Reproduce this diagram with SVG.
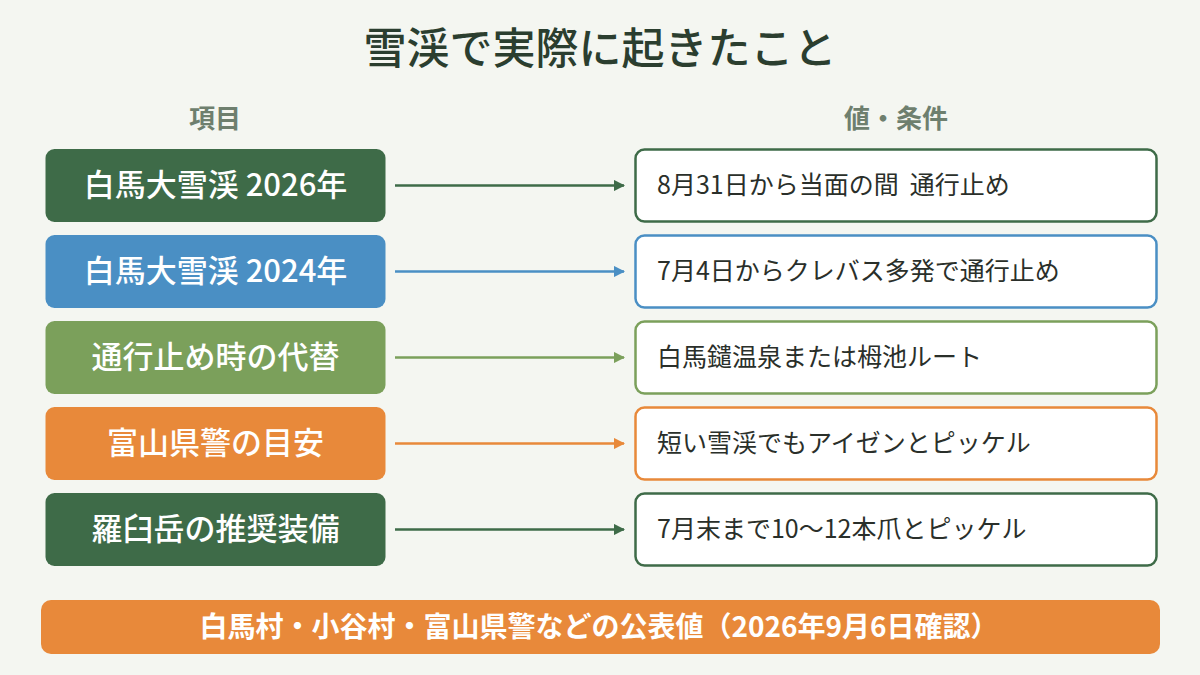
<svg xmlns="http://www.w3.org/2000/svg" width="1200" height="675" viewBox="0 0 1200 675">
<style>
text{font-family:"Noto Sans CJK JP","Noto Sans",sans-serif}
.title{font-size:43px;font-weight:500;fill:#2B3E2F;text-anchor:middle}
.hdr{font-size:26px;font-weight:700;fill:#6E7F6E;text-anchor:middle}
.lt{font-size:31px;font-weight:500;fill:#fff;text-anchor:middle}
.rt{font-size:25px;fill:#2A2F2A}
.rbox{fill:#fff;stroke-width:2.5}
.conn{stroke-width:2.5;fill:none}
</style>
<defs>
<marker id="ag" viewBox="0 0 10 10" refX="9" refY="5" markerWidth="4.5" markerHeight="4.5" orient="auto"><path d="M0,0L10,5L0,10z" fill="#3E6B48"/></marker>
<marker id="ab" viewBox="0 0 10 10" refX="9" refY="5" markerWidth="4.5" markerHeight="4.5" orient="auto"><path d="M0,0L10,5L0,10z" fill="#4A8FC4"/></marker>
<marker id="al" viewBox="0 0 10 10" refX="9" refY="5" markerWidth="4.5" markerHeight="4.5" orient="auto"><path d="M0,0L10,5L0,10z" fill="#7BA05B"/></marker>
<marker id="ao" viewBox="0 0 10 10" refX="9" refY="5" markerWidth="4.5" markerHeight="4.5" orient="auto"><path d="M0,0L10,5L0,10z" fill="#E8893A"/></marker>
</defs>
<rect width="1200" height="675" fill="#F4F6F1"/>
<text class="title" x="600" y="64">雪渓で実際に起きたこと</text>
<text class="hdr" x="215" y="128">項目</text>
<text class="hdr" x="896" y="128">値・条件</text>

<g id="row1">
<rect x="45.5" y="149" width="340" height="73" rx="9" fill="#3E6B48"/>
<text class="lt" x="215.5" y="196">白馬大雪渓 2026年</text>
<rect class="rbox" x="635.5" y="149.5" width="521" height="72" rx="9" stroke="#3E6B48"/>
<text class="rt" x="657" y="194" xml:space="preserve">8月31日から当面の間  通行止め</text>
</g>
<g id="row2">
<rect x="45.5" y="235" width="340" height="73" rx="9" fill="#4A8FC4"/>
<text class="lt" x="215.5" y="282">白馬大雪渓 2024年</text>
<rect class="rbox" x="635.5" y="235.5" width="521" height="72" rx="9" stroke="#4A8FC4"/>
<text class="rt" x="657" y="280">7月4日からクレバス多発で通行止め</text>
</g>
<g id="row3">
<rect x="45.5" y="321" width="340" height="73" rx="9" fill="#7BA05B"/>
<text class="lt" x="215.5" y="368">通行止め時の代替</text>
<rect class="rbox" x="635.5" y="321.5" width="521" height="72" rx="9" stroke="#7BA05B"/>
<text class="rt" x="657" y="366">白馬鑓温泉または栂池ルート</text>
</g>
<g id="row4">
<rect x="45.5" y="407" width="340" height="73" rx="9" fill="#E8893A"/>
<text class="lt" x="215.5" y="454">富山県警の目安</text>
<rect class="rbox" x="635.5" y="407.5" width="521" height="72" rx="9" stroke="#E8893A"/>
<text class="rt" x="657" y="452">短い雪渓でもアイゼンとピッケル</text>
</g>
<g id="row5">
<rect x="45.5" y="493" width="340" height="73" rx="9" fill="#3E6B48"/>
<text class="lt" x="215.5" y="540">羅臼岳の推奨装備</text>
<rect class="rbox" x="635.5" y="493.5" width="521" height="72" rx="9" stroke="#3E6B48"/>
<text class="rt" x="657" y="538">7月末まで10〜12本爪とピッケル</text>
</g>

<g id="connectors">
<line class="conn" x1="395" y1="185.5" x2="624" y2="185.5" stroke="#3E6B48" marker-end="url(#ag)"/>
<line class="conn" x1="395" y1="271.5" x2="624" y2="271.5" stroke="#4A8FC4" marker-end="url(#ab)"/>
<line class="conn" x1="395" y1="357.5" x2="624" y2="357.5" stroke="#7BA05B" marker-end="url(#al)"/>
<line class="conn" x1="395" y1="443.5" x2="624" y2="443.5" stroke="#E8893A" marker-end="url(#ao)"/>
<line class="conn" x1="395" y1="529.5" x2="624" y2="529.5" stroke="#3E6B48" marker-end="url(#ag)"/>
</g>

<g id="footer">
<rect x="41" y="600" width="1119" height="54" rx="10" fill="#E8893A"/>
<text x="599" y="637" font-size="28" font-weight="700" fill="#fff" text-anchor="middle">白馬村・小谷村・富山県警などの公表値（2026年9月6日確認）</text>
</g>
</svg>
